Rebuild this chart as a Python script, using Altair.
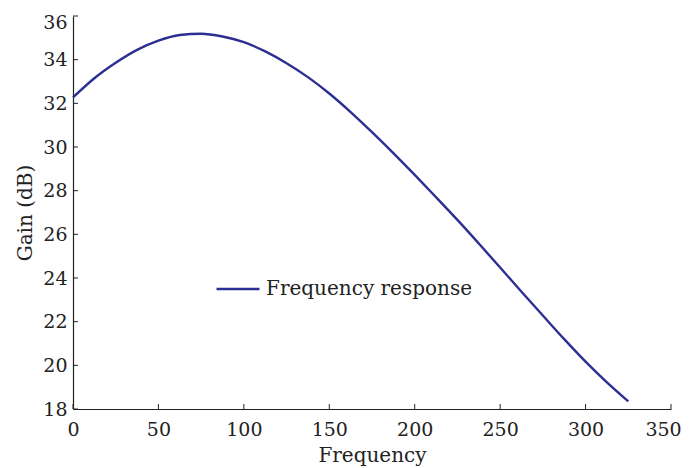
import altair as alt
import pandas as pd

freq = [0, 12.5, 25, 37.5, 50, 62.5, 75, 87.5, 100, 112.5, 125, 137.5, 150,
        162.5, 175, 187.5, 200, 212.5, 225, 237.5, 250, 262.5, 275, 287.5,
        300, 312.5, 325]
gain = [32.27, 33.15, 33.86, 34.45, 34.87, 35.13, 35.19, 35.06, 34.8, 34.38,
        33.84, 33.2, 32.45, 31.6, 30.68, 29.72, 28.72, 27.7, 26.66, 25.58,
        24.48, 23.37, 22.28, 21.2, 20.17, 19.22, 18.35]
series_name = "Frequency response"
x_ticks = [0, 50, 100, 150, 200, 250, 300, 350]
y_ticks = [18, 20, 22, 24, 26, 28, 30, 32, 34, 36]

FONT = "DejaVu Serif"
LINE = "#2b2f91"
W, H = 598, 393

df = pd.DataFrame({"Frequency": freq, "Gain": gain, "series": series_name})
xt = pd.DataFrame({"t": x_ticks})
yt = pd.DataFrame({"t": y_ticks})

xs = alt.Scale(domain=[0, 350], nice=False, zero=False)
ys = alt.Scale(domain=[18, 36], nice=False, zero=False)

line = alt.Chart(df).mark_line(strokeWidth=2.4, interpolate="monotone").encode(
    x=alt.X("Frequency:Q", scale=xs, title="Frequency",
            axis=alt.Axis(values=x_ticks, tickSize=0, labelPadding=11,
                          grid=False, titlePadding=6, labelFlush=False,
                          labelOffset={"condition": {"test": "datum.value == 350",
                                                     "value": -8},
                                       "value": 0})),
    y=alt.Y("Gain:Q", scale=ys, title="Gain (dB)",
            axis=alt.Axis(values=y_ticks, tickSize=0, labelPadding=6,
                          grid=False, titlePadding=7, labelFlush=False,
                          labelOffset={"condition": {"test": "datum.value == 36",
                                                     "value": 6},
                                       "value": 0})),
    color=alt.Color("series:N", scale=alt.Scale(range=[LINE]),
                    legend=alt.Legend(title=None, orient="none",
                                      legendX=142, legendY=250,
                                      symbolType="stroke", symbolSize=1849,
                                      symbolStrokeWidth=2.4, labelFont=FONT,
                                      labelFontSize=20, labelColor="#222",
                                      labelOffset=5, padding=0, labelLimit=0)),
)

xtick = alt.Chart(xt).mark_rule(color="#222", strokeWidth=1).encode(
    x=alt.X("t:Q", scale=xs), y=alt.value(H), y2=alt.value(H - 5))
ytick = alt.Chart(yt).mark_rule(color="#222", strokeWidth=1).encode(
    y=alt.Y("t:Q", scale=ys), x=alt.value(0), x2=alt.value(5))

chart = alt.layer(line, xtick, ytick).properties(
    width=W, height=H,
    autosize=alt.AutoSizeParams(type="none"),
    padding={"left": 65, "top": 8, "right": 11, "bottom": 60},
).configure_view(stroke=None).configure_axis(
    labelFont=FONT, titleFont=FONT, labelFontSize=19, titleFontSize=20,
    titleFontWeight="normal", labelColor="#222", titleColor="#222",
    domainColor="#222", domainWidth=1.2,
)

chart.save("out.html", embed_options={"renderer": "svg", "actions": False})
